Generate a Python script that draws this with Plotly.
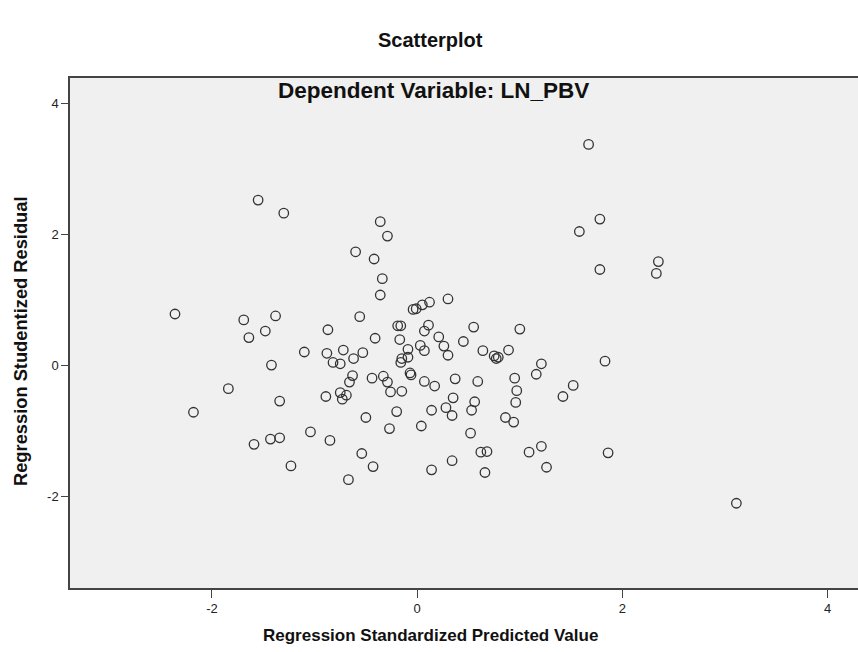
import plotly.graph_objects as go

# Regression Standardized Predicted Value
pred = [-2.36, -2.18, -1.84, -1.69, -1.64, -1.48, -1.38, -1.42, -1.34, -1.59,
        -1.43, -1.34, -1.23, -1.55, -1.30, -0.36, -0.29, -0.60, -0.42, -0.34,
        -0.36, 0.30, -0.04, -0.01, 0.05, 0.12, 1.67, 1.78, 1.58, 1.78,
        2.35, 2.33, 1.83, 1.52, 1.42, 1.86, 3.11,
        -0.56, -0.87, -0.19, -0.16, 0.11, 0.07, 0.55, 1.00, -0.41,
        -0.17, 0.21, 0.45, 0.26, 0.03, 0.07, 0.30, -0.09, -1.10, -0.88,
        -0.72, -0.53, -0.62, -0.82, -0.75, -0.15, -0.09, -0.16, 0.64, 0.75,
        0.77, 0.79, 0.89, 1.21, 1.16, -0.07, -0.06, -0.63, -0.66, -0.44,
        -0.33, -0.29, 0.07, 0.17, 0.37, 0.59, 0.95, 0.97, 0.96, -0.75,
        -0.69, -0.73, -0.89, -0.26, -0.15, 0.35, 0.56, 0.14, 0.28, 0.34,
        0.53, -0.20, -0.50, 0.86, 0.94, -0.27, 0.04, -1.04, -0.85, 0.52,
        -0.54, 0.62, 0.68, 1.09, 1.21, -0.43, 0.14, 0.34, 0.66, 1.26, -0.67]

# Regression Studentized Residual
resid = [0.79, -0.71, -0.35, 0.70, 0.43, 0.53, 0.76, 0.01, -0.54, -1.20,
         -1.12, -1.10, -1.53, 2.53, 2.33, 2.20, 1.98, 1.74, 1.63, 1.33,
         1.08, 1.02, 0.86, 0.87, 0.93, 0.97, 3.38, 2.24, 2.05, 1.47,
         1.59, 1.41, 0.07, -0.30, -0.47, -1.33, -2.10,
         0.75, 0.55, 0.61, 0.61, 0.62, 0.53, 0.59, 0.56, 0.42,
         0.40, 0.44, 0.37, 0.30, 0.31, 0.23, 0.16, 0.25, 0.21, 0.19,
         0.24, 0.20, 0.11, 0.05, 0.03, 0.11, 0.13, 0.05, 0.23, 0.15,
         0.11, 0.13, 0.24, 0.03, -0.13, -0.11, -0.14, -0.15, -0.25, -0.19,
         -0.16, -0.25, -0.24, -0.31, -0.20, -0.24, -0.19, -0.38, -0.56, -0.41,
         -0.45, -0.51, -0.47, -0.40, -0.39, -0.49, -0.55, -0.68, -0.64, -0.76,
         -0.68, -0.70, -0.79, -0.79, -0.86, -0.96, -0.92, -1.01, -1.14, -1.03,
         -1.34, -1.32, -1.31, -1.32, -1.23, -1.54, -1.59, -1.45, -1.63, -1.55, -1.74]

tick_vals = [-2, 0, 2, 4]
tick_text = ["-2", "0", "2", "4"]

title_text = "Scatterplot"
subtitle_text = "Dependent Variable: LN_PBV"
x_title = "Regression Standardized Predicted Value"
y_title = "Regression Studentized Residual"

W, H = 858, 652
L, R, T, B = 70, 0, 78, 64
pw, ph = W - L - R, H - T - B


def px(xp):
    return (xp - L) / pw


def py(yp):
    return (H - B - yp) / ph


fig = go.Figure()
fig.add_trace(go.Scatter(
    x=pred, y=resid, mode="markers",
    marker=dict(symbol="circle-open", size=9.5, color="#333333",
                line=dict(width=1.3, color="#333333")),
    showlegend=False, hoverinfo="skip"))

axis_font = dict(family="Liberation Sans Narrow, Arial Narrow, Liberation Sans, Arial",
                 size=13, color="#222222")

fig.update_layout(
    width=W, height=H,
    margin=dict(l=L, r=R, t=T, b=B, pad=0),
    paper_bgcolor="white",
    plot_bgcolor="#f0f0f0",
    xaxis=dict(range=[-3.383, 4.295], tickvals=tick_vals, ticktext=tick_text,
               showgrid=False, zeroline=False, showline=True, mirror=True,
               linecolor="#444444", linewidth=1.5, ticks="outside", ticklen=8,
               tickcolor="#444444", tickwidth=1.3, tickfont=axis_font),
    yaxis=dict(range=[-3.394, 4.394], tickvals=tick_vals, ticktext=tick_text,
               showgrid=False, zeroline=False, showline=True, mirror=False,
               linecolor="#444444", linewidth=1.5, ticks="outside", ticklen=7,
               tickcolor="#444444", tickwidth=1.3, tickfont=axis_font),
    annotations=[
        dict(text=title_text, x=px(430), y=py(40), xref="paper", yref="paper",
             showarrow=False, xanchor="center", yanchor="middle",
             font=dict(family="Liberation Sans, Arial", size=20, color="#111111")),
        dict(text=subtitle_text, x=px(433), y=py(90), xref="paper", yref="paper",
             showarrow=False, xanchor="center", yanchor="middle",
             font=dict(family="Liberation Sans, Arial", size=22.5, color="#111111")),
        dict(text=x_title, x=px(430), y=py(635), xref="paper", yref="paper",
             showarrow=False, xanchor="center", yanchor="middle",
             font=dict(family="Liberation Sans, Arial", size=17, color="#111111")),
        dict(text=y_title, x=px(20), y=py(341), xref="paper", yref="paper",
             showarrow=False, xanchor="center", yanchor="middle", textangle=-90,
             font=dict(family="Liberation Sans, Arial", size=18.3, color="#111111")),
    ],
)

for a in fig.layout.annotations:
    a.text = "<b>" + a.text + "</b>"

fig.write_html("out.html",
               config={"displayModeBar": False},
               post_script="document.body.style.margin='0';"
                           "document.body.style.overflow='hidden';")
